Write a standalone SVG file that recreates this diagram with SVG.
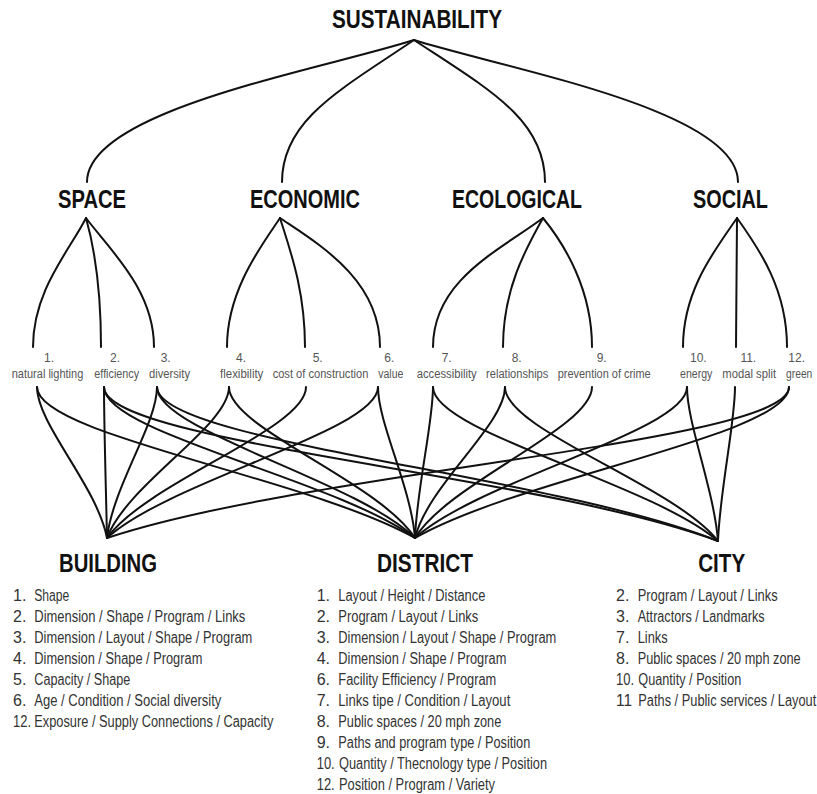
<svg xmlns="http://www.w3.org/2000/svg" width="817" height="794" viewBox="0 0 817 794">
<style>
.t{font-family:"Liberation Sans",Arial,sans-serif;font-weight:bold;font-size:25px;fill:#111;text-anchor:middle}
.c{font-family:"Liberation Sans",Arial,sans-serif;font-size:12px;fill:#555;text-anchor:middle}
.i{font-family:"Liberation Sans",Arial,sans-serif;font-size:16px;fill:#333}
.k{fill:none;stroke:#111;stroke-width:2;stroke-linecap:round}
</style>
<rect width="817" height="794" fill="#fff"/>
<g id="connectors" class="k">
<path d="M414,40 C320,70 87,110 87,182"/>
<path d="M414,40 C340,90 282,120 282,182"/>
<path d="M414,40 C490,90 545,120 545,182"/>
<path d="M414,40 C510,70 738,110 738,182"/>
<path d="M86,218 C70,250 33,290 33,347"/>
<path d="M86,218 C95,250 101,290 101,347"/>
<path d="M86,218 C110,250 154,290 154,347"/>
<path d="M280,218 C262,245 227,290 227,347"/>
<path d="M280,218 C290,250 305,290 305,347"/>
<path d="M280,218 C320,245 380,280 380,347"/>
<path d="M543,218 C500,250 433,280 433,347"/>
<path d="M543,218 C525,250 503,290 503,347"/>
<path d="M543,218 C565,245 592,290 592,347"/>
<path d="M737,218 C715,250 683,290 683,347"/>
<path d="M737,218 L736,347"/>
<path d="M737,218 C760,250 787,290 787,347"/>
<path d="M37,387 C37,424 97,486 107,538"/>
<path d="M104,387 C104,425 106,490 107,538"/>
<path d="M157,387 C157,424 113,486 107,538"/>
<path d="M229,387 C229,426 127,484 107,538"/>
<path d="M306,387 C306,429 147,482 107,538"/>
<path d="M378,387 C378,431 171,480 107,538"/>
<path d="M789,387 C789,443 312,470 107,538"/>
<path d="M37,387 C37,435 306,477 415,538"/>
<path d="M104,387 C104,433 335,479 415,538"/>
<path d="M157,387 C157,431 356,480 415,538"/>
<path d="M229,387 C229,428 379,482 415,538"/>
<path d="M378,387 C378,423 411,487 415,538"/>
<path d="M433,387 C433,423 417,487 415,538"/>
<path d="M505,387 C505,425 428,485 415,538"/>
<path d="M592,387 C592,428 448,483 415,538"/>
<path d="M687,387 C687,431 479,480 415,538"/>
<path d="M789,387 C789,435 522,477 415,538"/>
<path d="M104,387 C104,443 534,473 718,541"/>
<path d="M157,387 C157,442 550,474 718,541"/>
<path d="M433,387 C433,432 649,482 718,541"/>
<path d="M505,387 C505,430 674,485 718,541"/>
<path d="M687,387 C687,423 714,490 718,541"/>
<path d="M735,387 C735,423 720,490 718,541"/>
</g>
<g id="sustainability"><text class="t" x="417" y="28" textLength="170" lengthAdjust="spacingAndGlyphs">SUSTAINABILITY</text></g>
<g id="space"><text class="t" x="92" y="208" textLength="68" lengthAdjust="spacingAndGlyphs">SPACE</text></g>
<g id="economic"><text class="t" x="305" y="208" textLength="110" lengthAdjust="spacingAndGlyphs">ECONOMIC</text></g>
<g id="ecological"><text class="t" x="517" y="208" textLength="130" lengthAdjust="spacingAndGlyphs">ECOLOGICAL</text></g>
<g id="social"><text class="t" x="730.5" y="208" textLength="75" lengthAdjust="spacingAndGlyphs">SOCIAL</text></g>
<g id="c1"><text class="c" x="49" y="362">1.</text><text class="c" x="47.5" y="378" textLength="71.6" lengthAdjust="spacingAndGlyphs">natural lighting</text></g>
<g id="c2"><text class="c" x="115" y="362">2.</text><text class="c" x="116.7" y="378" textLength="44.7" lengthAdjust="spacingAndGlyphs">efficiency</text></g>
<g id="c3"><text class="c" x="165.7" y="362">3.</text><text class="c" x="169.5" y="378" textLength="41" lengthAdjust="spacingAndGlyphs">diversity</text></g>
<g id="c4"><text class="c" x="241" y="362">4.</text><text class="c" x="241.7" y="378" textLength="43.3" lengthAdjust="spacingAndGlyphs">flexibility</text></g>
<g id="c5"><text class="c" x="317.7" y="362">5.</text><text class="c" x="320.5" y="378" textLength="95.7" lengthAdjust="spacingAndGlyphs">cost of construction</text></g>
<g id="c6"><text class="c" x="389.3" y="362">6.</text><text class="c" x="390.8" y="378" textLength="25" lengthAdjust="spacingAndGlyphs">value</text></g>
<g id="c7"><text class="c" x="446.7" y="362">7.</text><text class="c" x="446.7" y="378" textLength="60" lengthAdjust="spacingAndGlyphs">accessibility</text></g>
<g id="c8"><text class="c" x="516.7" y="362">8.</text><text class="c" x="517.2" y="378" textLength="62.3" lengthAdjust="spacingAndGlyphs">relationships</text></g>
<g id="c9"><text class="c" x="601.7" y="362">9.</text><text class="c" x="604.2" y="378" textLength="93" lengthAdjust="spacingAndGlyphs">prevention of crime</text></g>
<g id="c10"><text class="c" x="698.3" y="362">10.</text><text class="c" x="696.2" y="378" textLength="32.3" lengthAdjust="spacingAndGlyphs">energy</text></g>
<g id="c11"><text class="c" x="748.3" y="362">11.</text><text class="c" x="749.2" y="378" textLength="53.7" lengthAdjust="spacingAndGlyphs">modal split</text></g>
<g id="c12"><text class="c" x="796.7" y="362">12.</text><text class="c" x="799.2" y="378" textLength="26.3" lengthAdjust="spacingAndGlyphs">green</text></g>
<g id="building">
<text class="t" x="108" y="572" font-size="26" textLength="98" lengthAdjust="spacingAndGlyphs">BUILDING</text>
<g class="i">
<text x="13" y="601">1.</text><text x="34.3" y="601" textLength="35" lengthAdjust="spacingAndGlyphs">Shape</text>
<text x="13" y="622">2.</text><text x="34.3" y="622" textLength="211" lengthAdjust="spacingAndGlyphs">Dimension / Shape / Program / Links</text>
<text x="13" y="643">3.</text><text x="34.3" y="643" textLength="218" lengthAdjust="spacingAndGlyphs">Dimension / Layout / Shape / Program</text>
<text x="13" y="664">4.</text><text x="34.3" y="664" textLength="168" lengthAdjust="spacingAndGlyphs">Dimension / Shape / Program</text>
<text x="13" y="685">5.</text><text x="34.3" y="685" textLength="96" lengthAdjust="spacingAndGlyphs">Capacity / Shape</text>
<text x="13" y="706">6.</text><text x="34.3" y="706" textLength="187" lengthAdjust="spacingAndGlyphs">Age / Condition / Social diversity</text>
<text x="13" y="727" textLength="18" lengthAdjust="spacingAndGlyphs">12.</text><text x="34.3" y="727" textLength="239" lengthAdjust="spacingAndGlyphs">Exposure / Supply Connections / Capacity</text>
</g>
</g>
<g id="district">
<text class="t" x="425" y="572" font-size="26" textLength="96" lengthAdjust="spacingAndGlyphs">DISTRICT</text>
<g class="i">
<text x="316.7" y="601">1.</text><text x="338.3" y="601" textLength="147" lengthAdjust="spacingAndGlyphs">Layout / Height / Distance</text>
<text x="316.7" y="622">2.</text><text x="338.3" y="622" textLength="140" lengthAdjust="spacingAndGlyphs">Program / Layout / Links</text>
<text x="316.7" y="643">3.</text><text x="338.3" y="643" textLength="218" lengthAdjust="spacingAndGlyphs">Dimension / Layout / Shape / Program</text>
<text x="316.7" y="664">4.</text><text x="338.3" y="664" textLength="168" lengthAdjust="spacingAndGlyphs">Dimension / Shape / Program</text>
<text x="316.7" y="685">6.</text><text x="338.3" y="685" textLength="158" lengthAdjust="spacingAndGlyphs">Facility Efficiency / Program</text>
<text x="316.7" y="706">7.</text><text x="338.3" y="706" textLength="172" lengthAdjust="spacingAndGlyphs">Links tipe / Condition / Layout</text>
<text x="316.7" y="727">8.</text><text x="338.3" y="727" textLength="163" lengthAdjust="spacingAndGlyphs">Public spaces / 20 mph zone</text>
<text x="316.7" y="748">9.</text><text x="338.3" y="748" textLength="192" lengthAdjust="spacingAndGlyphs">Paths and program type / Position</text>
<text x="316.7" y="769" textLength="18" lengthAdjust="spacingAndGlyphs">10.</text><text x="339" y="769" textLength="208" lengthAdjust="spacingAndGlyphs">Quantity / Thecnology type / Position</text>
<text x="316.7" y="790" textLength="18" lengthAdjust="spacingAndGlyphs">12.</text><text x="339" y="790" textLength="156" lengthAdjust="spacingAndGlyphs">Position / Program / Variety</text>
</g>
</g>
<g id="city">
<text class="t" x="721.7" y="572" font-size="26" textLength="47" lengthAdjust="spacingAndGlyphs">CITY</text>
<g class="i">
<text x="616" y="601">2.</text><text x="637.7" y="601" textLength="140" lengthAdjust="spacingAndGlyphs">Program / Layout / Links</text>
<text x="616" y="622">3.</text><text x="637.7" y="622" textLength="127" lengthAdjust="spacingAndGlyphs">Attractors / Landmarks</text>
<text x="616" y="643">7.</text><text x="637.7" y="643" textLength="30" lengthAdjust="spacingAndGlyphs">Links</text>
<text x="616" y="664">8.</text><text x="637.7" y="664" textLength="163" lengthAdjust="spacingAndGlyphs">Public spaces / 20 mph zone</text>
<text x="616" y="685" textLength="18" lengthAdjust="spacingAndGlyphs">10.</text><text x="638.3" y="685" textLength="103" lengthAdjust="spacingAndGlyphs">Quantity / Position</text>
<text x="616" y="706" textLength="16" lengthAdjust="spacingAndGlyphs">11</text><text x="638.3" y="706" textLength="178" lengthAdjust="spacingAndGlyphs">Paths / Public services / Layout</text>
</g>
</g>
</svg>
